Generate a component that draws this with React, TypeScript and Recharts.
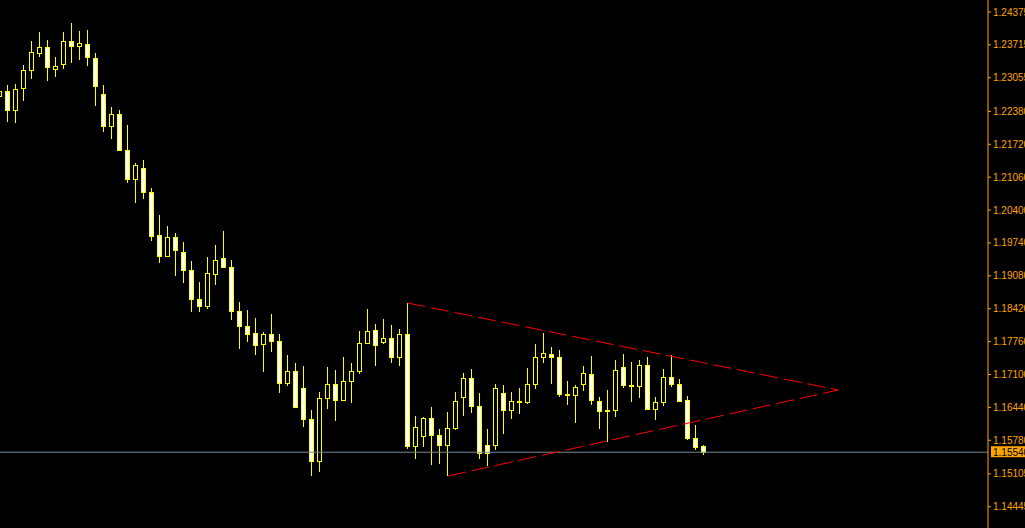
import {
  Bar,
  ComposedChart,
  ReferenceLine,
  XAxis,
  YAxis,
} from "recharts";

// OHLC, one candle per slot, oldest first
const opens = [
  1.22689, 1.2279, 1.22408, 1.2285, 1.23211, 1.23552, 1.23673, 1.23231, 1.23332, 1.23793,
  1.23693, 1.23733, 1.23452, 1.22729, 1.22087, 1.22328, 1.21606, 1.21024, 1.21244, 1.20763,
  1.199, 1.19478, 1.19859, 1.19558, 1.19197, 1.18615, 1.18475, 1.19117, 1.19438, 1.19257,
  1.18374, 1.18073, 1.17933, 1.17712, 1.17913, 1.17772, 1.16929, 1.1717, 1.16829, 1.16207,
  1.15364, 1.16628, 1.16909, 1.16588, 1.16969, 1.1717, 1.17732, 1.17993, 1.17752, 1.17832,
  1.17451, 1.17913, 1.15665, 1.15866, 1.16227, 1.15886, 1.15685, 1.16026, 1.16648, 1.1703,
  1.16468, 1.15685, 1.15685, 1.16729, 1.16387, 1.16548, 1.16548, 1.16909, 1.17451, 1.17511,
  1.17451, 1.16688, 1.16688, 1.16909, 1.1711, 1.16568, 1.16367, 1.16387, 1.1725, 1.16869,
  1.16869, 1.1729, 1.16407, 1.16548, 1.1705, 1.16909, 1.16588, 1.15825, 1.15665,
];
const highs = [
  1.2285, 1.2291, 1.2293, 1.23311, 1.23793, 1.23974, 1.23813, 1.23472, 1.23974, 1.24154,
  1.23994, 1.24014, 1.23552, 1.2291, 1.22469, 1.22408, 1.22107, 1.21345, 1.21405, 1.20843,
  1.20301, 1.2008, 1.1994, 1.19759, 1.19378, 1.18956, 1.19458, 1.19699, 1.1998, 1.19398,
  1.18555, 1.18394, 1.18234, 1.17953, 1.18314, 1.17913, 1.17491, 1.17331, 1.1727, 1.16387,
  1.16749, 1.1725, 1.1719, 1.17451, 1.17331, 1.17973, 1.18414, 1.18113, 1.18214, 1.18093,
  1.18013, 1.18535, 1.16267, 1.16247, 1.16448, 1.16006, 1.16347, 1.16749, 1.1713, 1.1721,
  1.16729, 1.16006, 1.16909, 1.16889, 1.16749, 1.16829, 1.1723, 1.17712, 1.17933, 1.17652,
  1.17592, 1.16969, 1.16889, 1.1727, 1.17471, 1.16648, 1.16789, 1.17391, 1.17511, 1.17351,
  1.17391, 1.17451, 1.16648, 1.1721, 1.17491, 1.1701, 1.16668, 1.16086, 1.15685,
];
const lows = [
  1.22609, 1.22167, 1.22147, 1.22589, 1.23031, 1.23472, 1.2299, 1.23071, 1.23231, 1.23352,
  1.23412, 1.23291, 1.22489, 1.21967, 1.21826, 1.21585, 1.20943, 1.20542, 1.20622, 1.19779,
  1.19338, 1.19458, 1.19077, 1.18936, 1.18354, 1.18354, 1.18414, 1.18896, 1.19237, 1.18194,
  1.17612, 1.17752, 1.17491, 1.1715, 1.17551, 1.16729, 1.16869, 1.16427, 1.16046, 1.15063,
  1.15143, 1.16407, 1.16167, 1.16568, 1.16528, 1.1711, 1.17712, 1.1727, 1.17712, 1.17331,
  1.1727, 1.15605, 1.15404, 1.15645, 1.15283, 1.15304, 1.15063, 1.15986, 1.16267, 1.16327,
  1.15404, 1.15263, 1.15585, 1.15906, 1.16207, 1.16307, 1.16508, 1.16809, 1.17331, 1.16909,
  1.16648, 1.16488, 1.16126, 1.16769, 1.16488, 1.16006, 1.15745, 1.16247, 1.16829, 1.16548,
  1.16628, 1.16387, 1.16187, 1.16468, 1.16849, 1.16548, 1.15785, 1.15585, 1.15484,
];
const closes = [
  1.2279, 1.22408, 1.2283, 1.23211, 1.23572, 1.23673, 1.23271, 1.23291, 1.23793, 1.23693,
  1.23753, 1.23472, 1.2289, 1.22087, 1.22328, 1.21606, 1.21024, 1.21304, 1.20763, 1.1988,
  1.19478, 1.19859, 1.19599, 1.19197, 1.18615, 1.18475, 1.19137, 1.19398, 1.19257, 1.18374,
  1.18073, 1.17913, 1.17692, 1.17913, 1.17772, 1.16929, 1.1717, 1.16448, 1.16207, 1.15364,
  1.16628, 1.16909, 1.16588, 1.16969, 1.1717, 1.17732, 1.17973, 1.17692, 1.17832, 1.17451,
  1.17913, 1.15665, 1.16046, 1.16227, 1.15886, 1.15685, 1.16026, 1.16568, 1.1703, 1.16468,
  1.15524, 1.15524, 1.16829, 1.16387, 1.16568, 1.16568, 1.16909, 1.17451, 1.17531, 1.17451,
  1.16708, 1.16708, 1.16849, 1.1713, 1.16588, 1.16367, 1.16387, 1.1719, 1.16889, 1.16889,
  1.1729, 1.16407, 1.16548, 1.1705, 1.16909, 1.16568, 1.15825, 1.15645, 1.1554,
];

const priceTicks = [
  1.24375, 1.23715, 1.23055, 1.2238, 1.2172, 1.2106, 1.204, 1.1974, 1.1908, 1.1842,
  1.1776, 1.171, 1.1644, 1.1578, 1.15105, 1.14445,
];

const currentPrice = 1.1554;

// triangle drawn on the chart: [bar index, price]
const upperLine = [
  [51, 1.18535],
  [104.84, 1.16789],
];
const lowerLine = [
  [56.09, 1.15063],
  [104.84, 1.16789],
];

const AXIS_COLOR = "#ffa500";
const CANDLE_COLOR = "#ffff00";
const FONT = "'Liberation Sans', Arial, sans-serif";

const candles = opens.map((open, i) => ({
  i,
  open,
  close: closes[i],
  high: highs[i],
  low: lows[i],
  range: [lows[i], highs[i]],
}));

function Candle(props: any) {
  const { x, y, width, height, payload } = props;
  if (!payload || height == null) return null;
  const { open, close, high, low } = payload;
  const cx = Math.round(x + width / 2) + 0.5;
  const ratio = high - low > 0 ? height / (high - low) : 0;
  const top = y + (high - Math.max(open, close)) * ratio;
  const bottom = y + (high - Math.min(open, close)) * ratio;
  const bullish = close >= open;

  return (
    <g>
      <line x1={cx} x2={cx} y1={y} y2={y + height} stroke={CANDLE_COLOR} strokeWidth={1} />
      <rect
        x={cx - 2}
        y={Math.round(top) + 0.5}
        width={4}
        height={Math.max(Math.round(bottom) - Math.round(top), 0)}
        fill={bullish ? "#000000" : "#ffffff"}
        stroke={CANDLE_COLOR}
        strokeWidth={1}
      />
    </g>
  );
}

function PriceTag(props: any) {
  const { viewBox } = props;
  if (!viewBox) return null;
  const left = viewBox.x + viewBox.width + 3;
  return (
    <g>
      <rect x={left} y={viewBox.y - 6} width={40} height={11} fill={AXIS_COLOR} />
      <text
        x={left + 2}
        y={viewBox.y + 3.5}
        fill="#000000"
        fontSize={10}
        fontFamily={FONT}
      >
        {currentPrice.toFixed(5)}
      </text>
    </g>
  );
}

export default function App() {
  return (
    <div style={{ width: 1025, height: 528, background: "#000000" }}>
      <style>{"body{margin:0;background:#000}"}</style>
      <ComposedChart
        width={1025}
        height={528}
        data={candles}
        margin={{ top: 0, right: 0, bottom: 0, left: 0 }}
      >
        <XAxis
          dataKey="i"
          type="number"
          domain={[0.0625, 123.5625]}
          allowDataOverflow
          hide
        />
        <YAxis
          orientation="right"
          width={37}
          domain={[1.14019, 1.24616]}
          allowDataOverflow
          ticks={priceTicks}
          interval={0}
          tickSize={3}
          tickMargin={2}
          axisLine={{ stroke: AXIS_COLOR }}
          tickLine={{ stroke: AXIS_COLOR }}
          tick={{ fill: AXIS_COLOR, fontSize: 10, fontFamily: FONT }}
          tickFormatter={(v: number) => v.toFixed(5)}
        />
        <ReferenceLine
          y={currentPrice}
          stroke="#778899"
          strokeWidth={1}
          label={<PriceTag />}
        />
        <Bar
          dataKey="range"
          barSize={5}
          shape={<Candle />}
          isAnimationActive={false}
        />
        <ReferenceLine
          segment={upperLine.map(([x, y]) => ({ x, y }))}
          stroke="#ff0000"
          strokeDasharray="18 6"
          ifOverflow="visible"
        />
        <ReferenceLine
          segment={lowerLine.map(([x, y]) => ({ x, y }))}
          stroke="#ff0000"
          strokeDasharray="18 6"
          ifOverflow="visible"
        />
      </ComposedChart>
    </div>
  );
}
